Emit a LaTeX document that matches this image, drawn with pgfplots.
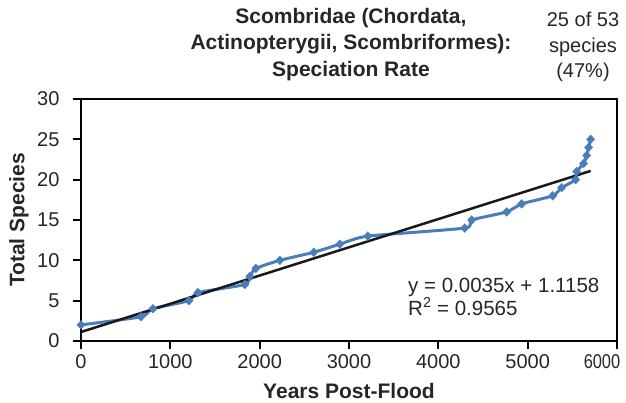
\documentclass[border=0pt]{standalone}
\usepackage{graphicx}
\usepackage{pgfplots}
\pgfplotsset{compat=1.18}
\usepackage{fontspec}
\setmainfont{Liberation Sans}
\definecolor{serblue}{HTML}{4A7EBB}
\begin{document}
\begin{tikzpicture}[x=1pt,y=1pt]
\begin{axis}[
  at={(0,0)}, anchor=south west,
  scale only axis, width=536pt, height=242pt,
  xmin=0, xmax=6000, ymin=0, ymax=30,
  xtick={0,1000,2000,3000,4000,5000,6000},
  xticklabels={0,1000,2000,3000,4000,5000,{\makebox[0pt]{\hspace*{-30pt}\scalebox{0.82}[1]{6000}}}},
  ytick={0,5,10,15,20,25,30},
  tick align=outside, xtick pos=bottom, ytick pos=left,
  major tick length=8pt,
  axis line style={line width=2.3pt},
  tick style={black, line width=1.8pt},
  ticklabel style={font=\fontsize{20}{22}\selectfont, text=black!85},
  /pgf/number format/assume math mode=true,
  scaled ticks=false,
  xticklabel style={yshift=-2pt},
  yticklabel style={xshift=-10pt},
  clip=false,
]
\addplot[serblue, line width=3pt, smooth, tension=0.35, mark=diamond*, mark size=4.3pt, mark options={xscale=1.25, fill=serblue, draw=serblue, line width=0.5pt}] coordinates {
(0,2) (671,3) (805,4) (1208,5) (1309,6) (1834,7) (1890,8) (1957,9)
(2226,10) (2606,11) (2897,12) (3210,13) (4295,14) (4373,15) (4765,16)
(4933,17) (5280,18) (5380,19) (5537,20) (5548,21) (5626,22) (5660,23)
(5682,24) (5705,25)
};
\addplot[black!90, line width=2.5pt] coordinates {(0,1.1158) (5705,21.0833)};
\end{axis}
\node[align=center, font=\fontsize{21}{26.5}\selectfont\bfseries, text=black!85] at (270,296.5) {Scombridae (Chordata,\\Actinopterygii, Scombriformes):\\Speciation Rate};
\node[align=center, font=\fontsize{20}{25.5}\selectfont, text=black!85] at (502,294) {25 of 53\\species\\(47\%)};
\node[rotate=90, font=\fontsize{21}{22}\selectfont\bfseries, text=black!85] at (-62,121) {Total Species};
\node[font=\fontsize{21}{22}\selectfont\bfseries, text=black!85] at (268,-50) {Years Post-Flood};
\node[anchor=west, align=left, inner xsep=0pt, font=\fontsize{20.5}{23}\selectfont, text=black!85] at (327,44.5) {y = 0.0035x + 1.1158\\R\textsuperscript{2} = 0.9565};
\pgfresetboundingbox
\path (-81,-61) rectangle (545,341);
\end{tikzpicture}
\end{document}
